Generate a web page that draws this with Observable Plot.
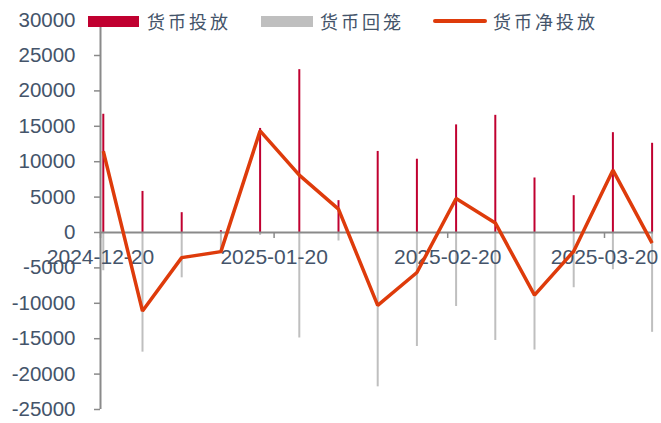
<!DOCTYPE html>
<html>
<head>
<meta charset="utf-8">
<script src="https://cdn.jsdelivr.net/npm/d3@7"></script>
<script src="https://cdn.jsdelivr.net/npm/@observablehq/plot@0.6"></script>
<style>
  html, body { margin: 0; padding: 0; background: #fff; }
  #wrap { position: relative; width: 661px; height: 423px; overflow: hidden; }
  #legend { position: absolute; left: 0; top: 0; width: 661px; height: 40px; pointer-events: none; }
  .sw { position: absolute; }
  .lt { position: absolute; font-family: "Noto Sans CJK SC", sans-serif; font-size: 18px; letter-spacing: 3px; color: #44546A; line-height: 20px; top: 11px; white-space: nowrap; }
</style>
</head>
<body>
<div id="wrap">
  <div id="chart"></div>
  <div id="legend"></div>
</div>
<script>
// Weekly dates (Fridays)
const dates = ["2024-12-20","2024-12-27","2025-01-03","2025-01-10","2025-01-17","2025-01-24","2025-01-31",
               "2025-02-07","2025-02-14","2025-02-21","2025-02-28","2025-03-07","2025-03-14","2025-03-21","2025-03-28"];
// 货币投放
const injection = [16700, 5800, 2800, 250, 14700, 23000, 4500, 11450, 10350, 15200, 16550, 7700, 5200, 14100, 12600];
// 货币回笼
const withdrawal = [-5400, -16900, -6400, -2900, -400, -14900, -1200, -21800, -16100, -10450, -15250, -16600, -7800, -5250, -14100];
// 货币净投放
const netInjection = [11500, -11100, -3550, -2700, 14350, 8100, 3300, -10300, -5650, 4800, 1350, -8850, -2650, 8800, -1500];
// Axis ticks
const yTicks = [-25000, -20000, -15000, -10000, -5000, 0, 5000, 10000, 15000, 20000, 25000, 30000];
const xTickLabels = ["2024-12-20", "2025-01-20", "2025-02-20", "2025-03-20"];
const seriesNames = ["货币投放", "货币回笼", "货币净投放"];

const RED = "#C00030", GRAY = "#BFBFBF", LINE = "#DE3B0B", AXIS = "#8A8A8A", TXT = "#44546A";

// data points placed at the middle of their day, as on a date axis
const toDate = s => new Date(new Date(s + "T00:00:00Z").getTime() + 12 * 3600e3);
const table = dates.map((d, i) => ({date: toDate(dates[i]), inj: injection[i], wd: withdrawal[i], net: netInjection[i]}));
const xTicks = xTickLabels.map(s => new Date(s + "T00:00:00Z"));

const chart = Plot.plot({
  width: 661,
  height: 423,
  marginLeft: 100,
  marginRight: 8,
  marginTop: 19.6,
  marginBottom: 14,
  x: {type: "utc", axis: null, domain: [new Date("2024-12-20T00:00:00Z"), new Date("2025-03-28T18:00:00Z")]},
  y: {domain: [-25000, 30000]},
  style: {fontFamily: "'Liberation Sans', Arial, sans-serif", fontSize: "21px", color: TXT, background: "transparent", overflow: "visible"},
  marks: [
    Plot.ruleX(table, {x: "date", y1: 0, y2: "wd", stroke: GRAY, strokeWidth: 2}),
    Plot.ruleX(table, {x: "date", y1: 0, y2: "inj", stroke: RED, strokeWidth: 2}),
    // y axis line
    Plot.ruleX([new Date("2024-12-20T00:00:00Z")], {y1: -25000, y2: 30000, stroke: AXIS, strokeWidth: 2}),
    Plot.axisY(yTicks, {tickSize: 6, tickPadding: 19, stroke: AXIS, strokeWidth: 1.5, fill: TXT, fontSize: 20.5, tickFormat: d => String(d)}),
    // x axis line at zero
    Plot.ruleY([0], {stroke: AXIS, strokeWidth: 2}),
    Plot.ruleX(xTicks, {x: d => d, y1: 0, y2: 0, insetBottom: -6, stroke: AXIS, strokeWidth: 1.5}),
    Plot.text(xTicks, {x: d => d, y: 0, dy: 25, text: (d, i) => xTickLabels[i], fill: TXT, fontSize: 21, textAnchor: "middle", lineAnchor: "middle"}),
    Plot.line(table, {x: "date", y: "net", stroke: LINE, strokeWidth: 3.5, strokeLinejoin: "miter", strokeLinecap: "butt"})
  ]
});
document.getElementById("chart").appendChild(chart);

// Legend overlay
const legend = document.getElementById("legend");
const items = [
  {type: "rect", color: RED, sx: 88, sw: 51, tx: 147},
  {type: "rect", color: GRAY, sx: 261, sw: 52, tx: 320},
  {type: "line", color: LINE, sx: 433, sw: 54, tx: 493}
];
items.forEach((it, i) => {
  const s = document.createElement("div");
  s.className = "sw";
  s.style.left = it.sx + "px";
  s.style.width = it.sw + "px";
  s.style.background = it.color;
  if (it.type === "rect") { s.style.top = "16px"; s.style.height = "11px"; }
  else { s.style.top = "19px"; s.style.height = "4px"; s.style.borderRadius = "2px"; }
  legend.appendChild(s);
  const t = document.createElement("div");
  t.className = "lt";
  t.style.left = it.tx + "px";
  t.textContent = seriesNames[i];
  legend.appendChild(t);
});
</script>
</body>
</html>
